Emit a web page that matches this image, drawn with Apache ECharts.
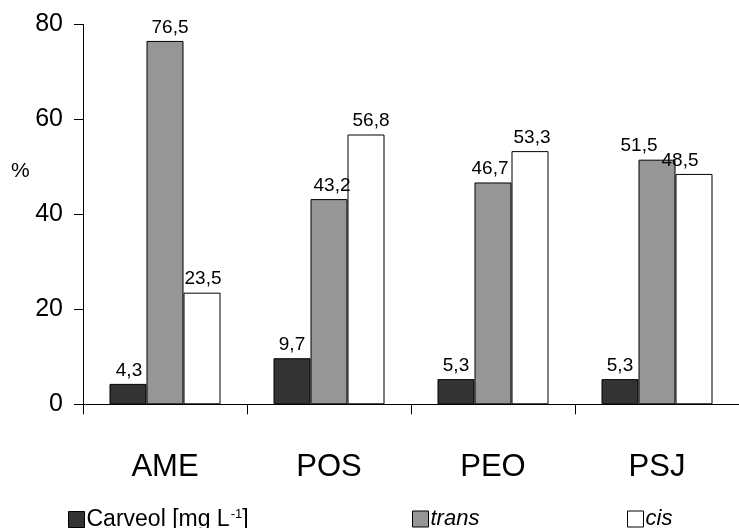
<!DOCTYPE html>
<html>
<head>
<meta charset="utf-8">
<script src="https://cdn.jsdelivr.net/npm/echarts@6/dist/echarts.min.js"></script>
<style>html,body{margin:0;padding:0;background:#fff;}#c{width:739px;height:528px;}</style>
</head>
<body>
<div id="c"></div>
<script>
const categories = ['AME', 'POS', 'PEO', 'PSJ'];
const carveol = [4.3, 9.7, 5.3, 5.3];
const trans = [76.5, 43.2, 46.7, 51.5];
const cis = [23.5, 56.8, 53.3, 48.5];
const yTicks = [0, 20, 40, 60, 80];

// label horizontal nudges (styling only, as placed in the original)
const labelShift = {
  Carveol: [1, 0, 0, 0],
  trans: [5, 3, -3, -18],
  cis: [1, 5, 2, -14]
};

const font = 'Liberation Sans, Arial, sans-serif';
const chart = echarts.init(document.getElementById('c'));
function bar(name, data, color) {
  return {
    name, type: 'bar', barWidth: 37, barGap: '0%',
    data: data.map((v, i) => ({ value: v, label: { offset: [labelShift[name][i], 0] } })),
    itemStyle: { color, borderColor: '#000', borderWidth: 1 },
    label: {
      show: true, position: 'top', distance: 4,
      fontFamily: font, fontSize: 19, color: '#000',
      formatter: p => String(p.value).replace('.', ',')
    },
    animation: false
  };
}
const legendBase = {
  icon: 'rect', itemWidth: 16, itemHeight: 16, top: 508, padding: 0,
  textStyle: { fontFamily: font, fontSize: 22, color: '#000', padding: [0, 0, 0, -3] }
};
chart.setOption({
  animation: false,
  grid: { left: 83, top: 24.3, width: 664, height: 380 },
  xAxis: {
    type: 'category', data: categories,
    axisLine: { lineStyle: { color: '#000' } },
    axisTick: { show: true, length: 10, lineStyle: { color: '#000' } },
    axisLabel: { fontFamily: font, fontSize: 31, color: '#000', margin: 48 }
  },
  yAxis: {
    type: 'value', min: yTicks[0], max: yTicks[yTicks.length - 1], interval: 20,
    axisLine: { show: true, lineStyle: { color: '#000' } },
    axisTick: { show: true, length: 9, lineStyle: { color: '#000' } },
    splitLine: { show: false },
    axisLabel: { fontFamily: font, fontSize: 25, color: '#000', margin: 20 }
  },
  legend: [
    Object.assign({}, legendBase, {
      left: 68, data: [{ name: 'Carveol', itemStyle: { borderColor: '#000', borderWidth: 1 } }],
      formatter: () => '{n|Carveol [mg L}{s|-1}{n|]}',
      textStyle: Object.assign({}, legendBase.textStyle, {
        rich: { n: { fontFamily: font, fontSize: 23, color: '#000' }, s: { fontFamily: font, fontSize: 13, color: '#000', verticalAlign: 'top', padding: [0, 0, 10, 1] } }
      })
    }),
    Object.assign({}, legendBase, {
      left: 412, data: [{ name: 'trans', itemStyle: { borderColor: '#000', borderWidth: 1 } }],
      textStyle: Object.assign({}, legendBase.textStyle, { fontStyle: 'italic' })
    }),
    Object.assign({}, legendBase, {
      left: 627, data: [{ name: 'cis', itemStyle: { borderColor: '#000', borderWidth: 1 } }],
      textStyle: Object.assign({}, legendBase.textStyle, { fontStyle: 'italic' })
    })
  ],
  graphic: [{ type: 'text', left: 11, top: 161, style: { text: '%', fontFamily: font, fontSize: 21, fill: '#000' } }],
  series: [
    bar('Carveol', carveol, '#333333'),
    bar('trans', trans, '#969696'),
    bar('cis', cis, '#ffffff')
  ]
});
</script>
</body>
</html>
